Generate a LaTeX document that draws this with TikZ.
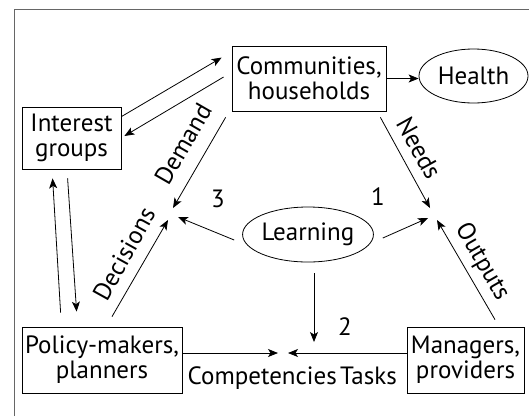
\documentclass[tikz,border=0pt]{standalone}
\usepackage{fontspec}
\setmainfont{PT Sans}
\usetikzlibrary{shapes.geometric,arrows.meta,calc}
\begin{document}
\begin{tikzpicture}[x=1pt,y=-1pt,
  every node/.style={font=\fontsize{25}{25}\selectfont, inner sep=0pt},
  boxnode/.style={draw, line width=0.8pt, align=center, inner sep=0pt},
  ellnode/.style={draw, ellipse, line width=0.8pt, inner sep=0pt},
  arr/.style={line width=0.8pt, -{Stealth[length=10pt,width=8pt,inset=2.5pt]}},
  lbl/.style={font=\fontsize{25}{25}\selectfont}
]
\useasboundingbox (0,0) rectangle (529,416);
\draw[black!60, line width=1pt] (14,416) -- (14,9) -- (529,9);

\node[boxnode, minimum width=154pt, minimum height=65pt] (comm) at (309,78.5) {Communities,\\households};
\node[ellnode, minimum width=109pt, minimum height=54pt] (health) at (473.5,76) {Health};
\node[boxnode, minimum width=99pt, minimum height=62pt] (interest) at (71.5,138) {Interest\\groups};
\node[ellnode, minimum width=110pt, minimum height=55pt] (learning) at (308,234.5) {Learning};
\node[boxnode, minimum width=160pt, minimum height=66pt] (policy) at (102,360) {Policy-makers,\\planners};
\node[boxnode, minimum width=117pt, minimum height=66pt] (managers) at (465.5,360) {Managers,\\providers};

\coordinate (tipIC) at ($(comm.north west)+(-10,12)$);
\coordinate (tipCI) at ($(interest.east)+(3,-2)$);
\coordinate (tipDem) at (173,208);
\coordinate (tipNeed) at (430,208);
\coordinate (tipLL) at (178,217);
\coordinate (tipLR) at (428,218);
\coordinate (tipLD) at (314,342);
\coordinate (tipComp) at (278,353);
\coordinate (tipTask) at (288,353);
\coordinate (tipDec) at (168,220);
\coordinate (tipOut) at (437,220);
\coordinate (tipUp) at ($(interest.south west)+(31,9)$);
\coordinate (tipDown) at ($(policy.north west)+(55,-15)$);

\draw[arr] ($(interest.north east)+(0,10)$) -- (tipIC);
\draw[arr] ($(comm.west)+(-8,-1.5)$) -- (tipCI);
\draw[arr] ($(comm.south west)+(-6,6)$) -- (tipDem);
\draw[arr] ($(comm.south east)+(-6,6)$) -- (tipNeed);
\draw[arr] (comm.east) -- (comm.east -| health.west);
\draw[arr] ($(learning.west)+(-8,5.5)$) -- (tipLL);
\draw[arr] ($(learning.east)+(9,3.5)$) -- (tipLR);
\draw[arr] ($(learning.south)+(6,11)$) -- (tipLD);
\draw[arr] ($(policy.east)+(0,-7)$) -- (tipComp);
\draw[arr] ($(managers.west)+(0,-7)$) -- (tipTask);
\draw[arr] ($(policy.north)+(10,-10)$) -- (tipDec);
\draw[arr] ($(managers.north)+(29.5,-7)$) -- (tipOut);
\draw[arr] ($(policy.north west)+(39,-14)$) -- (tipUp);
\draw[arr] ($(interest.south west)+(46,9)$) -- (tipDown);

\node[lbl, rotate=60] (demand) at (183,144) {Demand};
\node[lbl, rotate=-61] (needs) at (419,148) {Needs};
\node[lbl, rotate=61] (decisions) at (124,254) {Decisions};
\node[lbl, rotate=-60] (outputs) at (482,262) {Outputs};
\node[lbl] (n3) at (218,199) {3};
\node[lbl] (n1) at (378,197) {1};
\node[lbl] (n2) at (345,327) {2};
\node[lbl, anchor=base east] (compet) at (337,384) {Competencies};
\node[lbl, anchor=base west] (tasks) at (340,384) {Tasks};
\end{tikzpicture}
\end{document}
